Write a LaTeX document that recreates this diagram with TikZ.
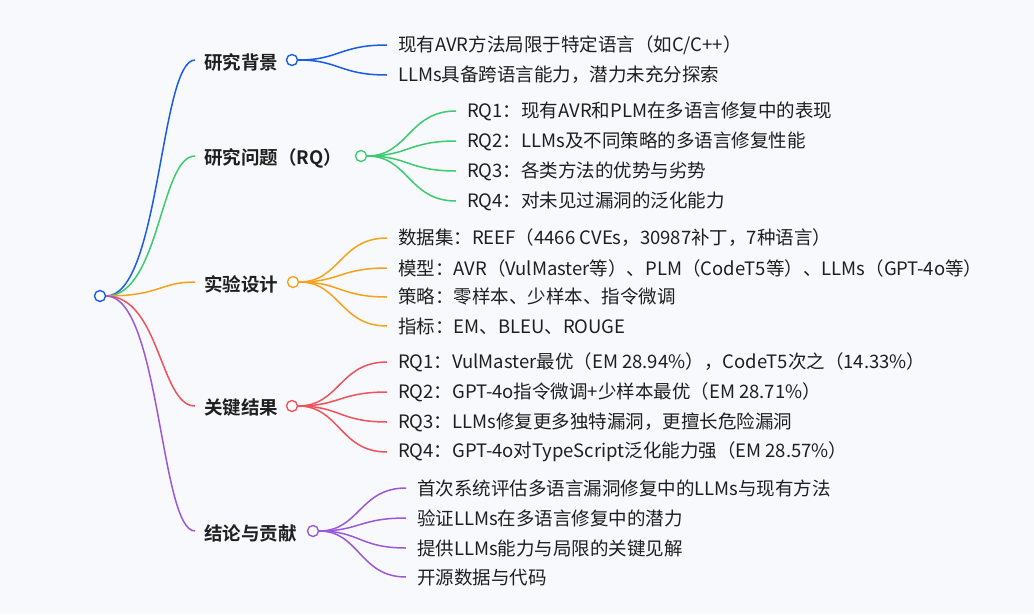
\documentclass[tikz,border=0pt]{standalone}
\usepackage{fontspec}
\setmainfont{Noto Sans CJK SC}[BoldFont={Noto Sans CJK SC Bold}]
\definecolor{bgc}{HTML}{F8F9FC}
\definecolor{cb}{HTML}{1A5CE6}
\definecolor{cg}{HTML}{3CCB6E}
\definecolor{co}{HTML}{F7A21B}
\definecolor{cr}{HTML}{F0535A}
\definecolor{cp}{HTML}{9B59D9}
\begin{document}
\begin{tikzpicture}[x=1pt,y=-1pt,
  lf/.style={anchor=west,inner sep=0pt,font=\fontsize{18.5}{20}\selectfont,text=black!88},
  br/.style={anchor=west,inner sep=0pt,font=\fontsize{18.5}{20}\selectfont\bfseries,text=black!88},
  dot/.style={circle,draw,fill=white,line width=1.4pt,minimum size=11pt,inner sep=0pt},
  ln/.style={line width=1.5pt}]
\fill[bgc] (0,0) rectangle (1034,614);
\useasboundingbox (0,0) rectangle (1034,614);
\node[dot,draw=cb] (root) at (100,296) {};
\foreach \n/\y/\cx/\c/\t in {b1/60/292/cb/研究背景, b2/156/361/cg/研究问题（RQ）, b3/282/293/co/实验设计, b4/406/292/cr/关键结果, b5/531/313/cp/结论与贡献}{
  \coordinate (\n e) at (195,\y);
  \draw[ln,\c] (root.east) .. controls (160,296) and (160,\y) .. (\n e);
  \node[br] (\n t) at (204,\y+2) {\t};
}
\foreach \n/\y/\cx/\c in {b1/60/292/cb, b2/156/361/cg, b3/282/293/co, b4/406/292/cr, b5/531/313/cp}{
  \node[dot,draw=\c] (\n) at (\cx,\y) {};
}
\foreach \n/\cx/\cy/\x/\y/\c/\t in {
 b1/292/60/398/45/cb/{现有AVR方法局限于特定语言（如C/C++）},
 b1/292/60/398/75/cb/{LLMs具备跨语言能力，潜力未充分探索},
 b2/361/156/467/111/cg/{RQ1：现有AVR和PLM在多语言修复中的表现},
 b2/361/156/467/141/cg/{RQ2：LLMs及不同策略的多语言修复性能},
 b2/361/156/467/171/cg/{RQ3：各类方法的优势与劣势},
 b2/361/156/467/201/cg/{RQ4：对未见过漏洞的泛化能力},
 b3/293/282/398/238/co/{数据集：REEF（4466 CVEs，30987补丁，7种语言）},
 b3/293/282/398/268/co/{模型：AVR（VulMaster等）、PLM（CodeT5等）、LLMs（GPT-4o等）},
 b3/293/282/398/297/co/{策略：零样本、少样本、指令微调},
 b3/293/282/398/326/co/{指标：EM、BLEU、ROUGE},
 b4/292/406/398/362/cr/{RQ1：VulMaster最优（EM 28.94\%），CodeT5次之（14.33\%）},
 b4/292/406/398/392/cr/{RQ2：GPT-4o指令微调+少样本最优（EM 28.71\%）},
 b4/292/406/398/422/cr/{RQ3：LLMs修复更多独特漏洞，更擅长危险漏洞},
 b4/292/406/398/452/cr/{RQ4：GPT-4o对TypeScript泛化能力强（EM 28.57\%）},
 b5/313/531/417/488/cp/{首次系统评估多语言漏洞修复中的LLMs与现有方法},
 b5/313/531/417/518/cp/{验证LLMs在多语言修复中的潜力},
 b5/313/531/417/548/cp/{提供LLMs能力与局限的关键见解},
 b5/313/531/417/577/cp/{开源数据与代码}}{
  \pgfmathsetmacro{\mx}{(\cx+\x-11)/2}
  \node[lf] (t) at (\x,\y) {\t};
  \coordinate (e) at (\x-11,\y);
  \draw[ln,\c] (\n.east) .. controls (\mx,\cy) and (\mx,\y) .. (e);
}
\end{tikzpicture}
\end{document}
